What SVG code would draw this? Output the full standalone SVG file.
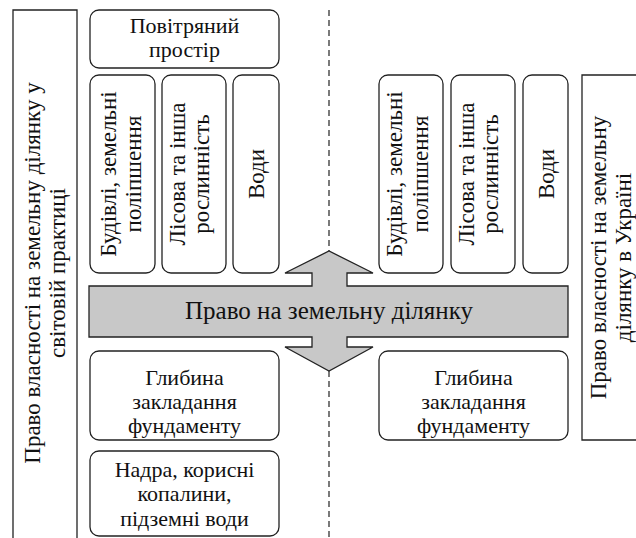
<svg xmlns="http://www.w3.org/2000/svg" width="636" height="538" viewBox="0 0 636 538" xml:lang="uk">
<rect width="636" height="538" fill="#fff"/>
<g id="connectors" stroke="#222" stroke-width="1.2" stroke-dasharray="6,4" fill="none">
<line x1="329" y1="10" x2="329" y2="251"/>
<line x1="329" y1="371" x2="329" y2="538"/>
</g>
<g id="nodes" fill="#fff" stroke="#222" stroke-width="1.3">
<g id="left-frame">
<path d="M13,540 V10 H77 V540"/>
<text font-family="Liberation Serif, Times New Roman, serif" font-size="23" text-anchor="middle" fill="#111" stroke="none" transform="translate(45,273) rotate(-90)" x="0" y="-5">Право власності на земельну ділянку у</text>
<text font-family="Liberation Serif, Times New Roman, serif" font-size="23" text-anchor="middle" fill="#111" stroke="none" transform="translate(45,273) rotate(-90)" x="0" y="20">світовій практиці</text>
</g>
<g id="right-frame">
<path d="M640,75 H582 V440 H640"/>
<text font-family="Liberation Serif, Times New Roman, serif" font-size="23" text-anchor="middle" fill="#111" stroke="none" transform="translate(613,257.5) rotate(-90)" x="0" y="-7">Право власності на земельну</text>
<text font-family="Liberation Serif, Times New Roman, serif" font-size="23" text-anchor="middle" fill="#111" stroke="none" transform="translate(613,257.5) rotate(-90)" x="0" y="18">ділянку в Україні</text>
</g>
<g id="air">
<rect x="90" y="10" width="189" height="58" rx="9"/>
<text font-family="Liberation Serif, Times New Roman, serif" font-size="22" text-anchor="middle" fill="#111" stroke="none" x="184.5" y="33">Повітряний</text>
<text font-family="Liberation Serif, Times New Roman, serif" font-size="22" text-anchor="middle" fill="#111" stroke="none" x="184.5" y="57">простір</text>
</g>
<g id="buildings-left">
<rect x="90" y="75" width="65" height="198" rx="9"/>
<text font-family="Liberation Serif, Times New Roman, serif" font-size="23" text-anchor="middle" fill="#111" stroke="none" transform="translate(122.5,174) rotate(-90)" x="0" y="-7">Будівлі, земельні</text>
<text font-family="Liberation Serif, Times New Roman, serif" font-size="23" text-anchor="middle" fill="#111" stroke="none" transform="translate(122.5,174) rotate(-90)" x="0" y="18">поліпшення</text>
</g>
<g id="forest-left">
<rect x="162" y="75" width="64" height="198" rx="9"/>
<text font-family="Liberation Serif, Times New Roman, serif" font-size="23" text-anchor="middle" fill="#111" stroke="none" transform="translate(194,174) rotate(-90)" x="0" y="-9">Лісова та інша</text>
<text font-family="Liberation Serif, Times New Roman, serif" font-size="23" text-anchor="middle" fill="#111" stroke="none" transform="translate(194,174) rotate(-90)" x="0" y="15">рослинність</text>
</g>
<g id="water-left">
<rect x="233" y="75" width="46" height="198" rx="9"/>
<text font-family="Liberation Serif, Times New Roman, serif" font-size="23" text-anchor="middle" fill="#111" stroke="none" transform="translate(256,174) rotate(-90)" x="0" y="8">Води</text>
</g>
<g id="buildings-right">
<rect x="379" y="75" width="64" height="198" rx="9"/>
<text font-family="Liberation Serif, Times New Roman, serif" font-size="23" text-anchor="middle" fill="#111" stroke="none" transform="translate(411,174) rotate(-90)" x="0" y="-9">Будівлі, земельні</text>
<text font-family="Liberation Serif, Times New Roman, serif" font-size="23" text-anchor="middle" fill="#111" stroke="none" transform="translate(411,174) rotate(-90)" x="0" y="17">поліпшення</text>
</g>
<g id="forest-right">
<rect x="451" y="75" width="64" height="198" rx="9"/>
<text font-family="Liberation Serif, Times New Roman, serif" font-size="23" text-anchor="middle" fill="#111" stroke="none" transform="translate(483,174) rotate(-90)" x="0" y="-9">Лісова та інша</text>
<text font-family="Liberation Serif, Times New Roman, serif" font-size="23" text-anchor="middle" fill="#111" stroke="none" transform="translate(483,174) rotate(-90)" x="0" y="15">рослинність</text>
</g>
<g id="water-right">
<rect x="523" y="75" width="45" height="198" rx="9"/>
<text font-family="Liberation Serif, Times New Roman, serif" font-size="23" text-anchor="middle" fill="#111" stroke="none" transform="translate(545.5,174) rotate(-90)" x="0" y="8">Води</text>
</g>
<g id="land-right-arrow">
<polygon fill="#c8c8c8" points="89,286 312,286 312,273 285,273 329,251 373,273 347,273 347,286 568,286 568,337 347,337 347,347 373,347 329,371 285,347 312,347 312,337 89,337"/>
<text font-family="Liberation Serif, Times New Roman, serif" font-size="25" text-anchor="middle" fill="#111" stroke="none" x="329" y="319">Право на земельну ділянку</text>
</g>
<g id="foundation-left">
<rect x="90" y="351" width="189" height="89" rx="9"/>
<text font-family="Liberation Serif, Times New Roman, serif" font-size="22" text-anchor="middle" fill="#111" stroke="none" x="184.5" y="385">Глибина</text>
<text font-family="Liberation Serif, Times New Roman, serif" font-size="22" text-anchor="middle" fill="#111" stroke="none" x="184.5" y="409">закладання</text>
<text font-family="Liberation Serif, Times New Roman, serif" font-size="22" text-anchor="middle" fill="#111" stroke="none" x="184.5" y="433">фундаменту</text>
</g>
<g id="subsoil-left">
<rect x="90" y="451" width="189" height="85" rx="9"/>
<text font-family="Liberation Serif, Times New Roman, serif" font-size="22" text-anchor="middle" fill="#111" stroke="none" x="184.5" y="477">Надра, корисні</text>
<text font-family="Liberation Serif, Times New Roman, serif" font-size="22" text-anchor="middle" fill="#111" stroke="none" x="184.5" y="501">копалини,</text>
<text font-family="Liberation Serif, Times New Roman, serif" font-size="22" text-anchor="middle" fill="#111" stroke="none" x="184.5" y="526">підземні води</text>
</g>
<g id="foundation-right">
<rect x="379" y="351" width="189" height="89" rx="9"/>
<text font-family="Liberation Serif, Times New Roman, serif" font-size="22" text-anchor="middle" fill="#111" stroke="none" x="473.5" y="385">Глибина</text>
<text font-family="Liberation Serif, Times New Roman, serif" font-size="22" text-anchor="middle" fill="#111" stroke="none" x="473.5" y="409">закладання</text>
<text font-family="Liberation Serif, Times New Roman, serif" font-size="22" text-anchor="middle" fill="#111" stroke="none" x="473.5" y="433">фундаменту</text>
</g>
</g>
</svg>
